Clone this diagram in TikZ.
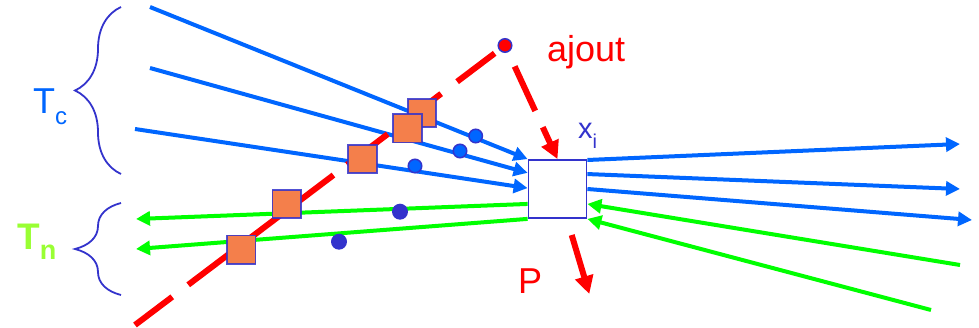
\documentclass[tikz,border=0pt]{standalone}
\usepackage{fontspec}
\setmainfont{Liberation Sans}
\usepackage{tikz}
\usetikzlibrary{arrows.meta, positioning, calc, decorations.pathreplacing}
\definecolor{cblue}{HTML}{0066FF}
\definecolor{ngreen}{HTML}{00FF00}
\definecolor{navy}{HTML}{3333CC}
\definecolor{addred}{HTML}{FF0000}
\definecolor{orng}{HTML}{F47F4B}
\definecolor{lime}{HTML}{99FF33}

\begin{document}
\begin{tikzpicture}[x=1pt, y=-1pt,
    cline/.style={cblue, line width=4pt, -{Triangle[length=14pt, width=14pt]}},
    nline/.style={ngreen, line width=4pt, -{Triangle[length=14pt, width=14pt]}},
    rline/.style={addred, line width=6pt},
    rtip/.style={-{Triangle[length=18pt, width=18pt]}},
    tbrace/.style={navy, line width=1.8pt, decorate, decoration={brace, amplitude=46pt}},
    xbox/.style={draw=navy, fill=white, line width=1.8pt, minimum size=58pt, inner sep=0pt},
    sq/.style={draw=navy, draw opacity=0.85, fill=orng, line width=1.6pt, minimum size=28.5pt, inner sep=0pt},
    cdot/.style={circle, draw=navy, fill=cblue, line width=1.5pt, minimum size=13.5pt, inner sep=0pt},
    ndot/.style={circle, fill=navy, minimum size=16pt, inner sep=0pt},
    lab/.style={inner sep=0pt, anchor=base west}]
  \useasboundingbox (0,0) rectangle (979,328);
  % braces T_c and T_n
  \draw[tbrace] (121,174) -- (121,7);
  \draw[tbrace] (121,295) -- (121,203);
  % the node x_i
  \node[xbox] (xi) at (557.5,189) {};
  % free ends of the edges
  \foreach \n/\x/\y in {c1/150/7, c2/150/68, c3/135/129, o1/960/144, o2/960/189, o3/972/220,
      g1/960/265, g2/931/310, h1/136/219, h2/136/249, r0/135/325, adc/505/45.5, p0/571.7/235, p1/589.3/294}
    \coordinate (\n) at (\x,\y);
  % T_c edges
  \foreach \n/\f in {c1/0, c2/0.23, c3/0.485}
    \draw[cline] (\n) -- ($(xi.north west)!\f!(xi.south west)$);
  \foreach \n/\f in {o1/0.015, o2/0.25, o3/0.5}
    \draw[cline] ($(xi.north east)!\f!(xi.south east)$) -- (\n);
  % T_n edges
  \foreach \n/\f in {g1/0.75, g2/1}
    \draw[nline] (\n) -- ($(xi.north east)!\f!(xi.south east)$);
  \foreach \n/\f in {h1/0.75, h2/1}
    \draw[nline] ($(xi.north west)!\f!(xi.south west)$) -- (\n);
  % ajout
  \draw[rline, dash pattern=on 0pt off 13pt on 47pt off 20pt on 47pt off 20pt on 51pt off 17pt on 182pt off 20pt on 60pt] (adc) -- (r0);
  \draw[rline, rtip, dash pattern=on 0pt off 23pt on 49pt off 18pt on 80pt] (adc) -- (xi.north);
  \draw[rline, rtip] (p0) -- (p1);
  % points
  \foreach \n/\x/\y in {q1/422/113, q2/407.5/128.3, q3/362.5/159, q4/286.7/204, q5/241.3/249.7}
    \node[sq] (\n) at (\x,\y) {};
  \foreach \n/\x/\y in {k1/475.7/136, k2/460/151, k3/415/166}
    \node[cdot] (\n) at (\x,\y) {};
  \foreach \n/\x/\y in {m1/400/211.7, m2/339/241.7}
    \node[ndot] (\n) at (\x,\y) {};
  \node[cdot, fill=addred] (ad) at (adc) {};
  % labels
  \node[lab, cblue, font=\fontsize{36}{40}\selectfont] (tc) at (33,113.3) {T\raisebox{-11pt}{\fontsize{24}{26}\selectfont c}};
  \node[lab, lime, font=\bfseries\fontsize{37}{40}\selectfont] (tn) at (17,250) {T\raisebox{-10pt}{\fontsize{27}{30}\selectfont n}};
  \node[lab, addred, font=\fontsize{36}{40}\selectfont] (aj) at (547,62) {ajout};
  \node[lab, navy, font=\fontsize{29}{32}\selectfont] (xl) at (578,138.3) {x\raisebox{-10.5pt}{\fontsize{20}{22}\selectfont i}};
  \node[lab, addred, font=\fontsize{36}{40}\selectfont] (pl) at (518,294) {P};
\end{tikzpicture}
\end{document}
